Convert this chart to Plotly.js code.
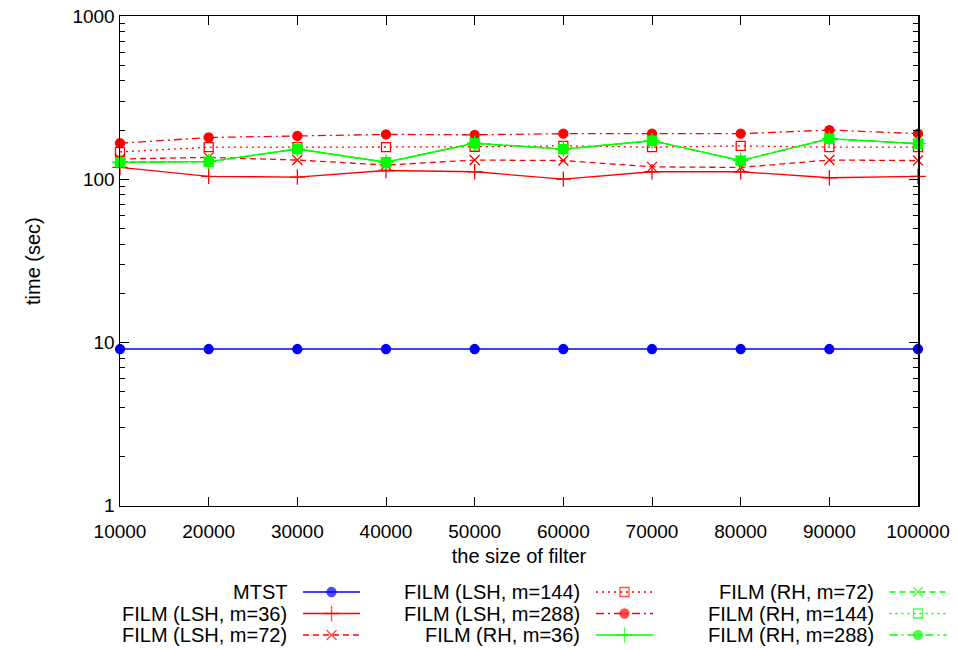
<!DOCTYPE html>
<html>
<head>
<meta charset="utf-8">
<script src="https://cdn.plot.ly/plotly-3.0.1.min.js"></script>
<style>html,body{margin:0;padding:0;background:#fff;}#chart{width:958px;height:650px;}</style>
</head>
<body>
<div id="chart"></div>
<script>
// ---- data ----
const filterSizes = [10000, 20000, 30000, 40000, 50000, 60000, 70000, 80000, 90000, 100000];
const mtst   = [9.1, 9.1, 9.1, 9.1, 9.1, 9.1, 9.1, 9.1, 9.1, 9.1];
const lsh36  = [118, 104, 103, 113, 111, 100, 111, 111, 102, 104];
const lsh72  = [133, 136, 131, 122, 131, 130, 119, 118, 131, 130];
const lsh144 = [147, 157, 157, 157, 158, 160, 157, 160, 157, 157];
const lsh288 = [166, 180, 184, 188, 187, 190, 190, 190, 200, 190];
const rh36   = [127, 128, 153, 127, 166, 153, 172, 130, 177, 165];
const rh72   = [127, 128, 153, 127, 166, 153, 172, 130, 177, 165];
const rh144  = [127, 128, 153, 127, 166, 153, 172, 130, 177, 165];
const rh288  = [127, 128, 153, 127, 166, 153, 172, 130, 177, 165];
const seriesNames = ['MTST', 'FILM (LSH, m=36)', 'FILM (LSH, m=72)', 'FILM (LSH, m=144)',
  'FILM (LSH, m=288)', 'FILM (RH, m=36)', 'FILM (RH, m=72)', 'FILM (RH, m=144)', 'FILM (RH, m=288)'];
const seriesValues = [mtst, lsh36, lsh72, lsh144, lsh288, rh36, rh72, rh144, rh288];
const yTickVals = [1, 10, 100, 1000];
const yTickText = ['1', '10', '100', '1000'];
const xTitle = 'the size of filter';
const yTitle = 'time (sec)';

// ---- styles ----
const styles = [
  {color: '#0000ff', dash: 'solid', symbol: 'circle', size: 9, width: 1.3},
  {color: '#ff0000', dash: 'solid', symbol: 'cross-thin-open', size: 11, width: 1.3},
  {color: '#ff0000', dash: '6px,4px', symbol: 'x-thin-open', size: 10, width: 1.3},
  {color: '#ff0000', dash: '2px,4px', symbol: 'square-open', size: 9, width: 1.3},
  {color: '#ff0000', dash: '8px,4px,2px,4px', symbol: 'circle', size: 9, width: 1.3},
  {color: '#00ff00', dash: 'solid', symbol: 'cross-thin-open', size: 11, width: 1.3},
  {color: '#00ff00', dash: '6px,4px', symbol: 'x-thin-open', size: 10, width: 1.3},
  {color: '#00ff00', dash: '2px,4px', symbol: 'square-open', size: 9, width: 1.3},
  {color: '#00ff00', dash: '8px,4px,2px,4px', symbol: 'circle', size: 9, width: 1.3}
];
const FONT = 'Liberation Sans, Arial, Helvetica, sans-serif';
const FS = 19;   // tick labels
const FS2 = 20;  // titles and legend

const traces = [];
seriesNames.forEach((name, i) => {
  const s = styles[i];
  traces.push({
    type: 'scatter', mode: 'lines+markers', name: name,
    x: filterSizes, y: seriesValues[i], xaxis: 'x', yaxis: 'y',
    line: {color: s.color, width: s.width, dash: s.dash},
    marker: {symbol: s.symbol, size: s.size, color: s.color, line: {color: s.color, width: 1.3}},
    cliponaxis: false, showlegend: false, hoverinfo: 'x+y+name'
  });
});

// ---- custom gnuplot-style legend (text, then sample) ----
const annotations = [];
const colRight = [289, 582, 875.5];
const rowY = [592, 613.5, 635];
seriesNames.forEach((name, i) => {
  const s = styles[i];
  const c = Math.floor(i / 3), r = i % 3;
  const xr = colRight[c];
  annotations.push({
    xref: 'x2', yref: 'y2', x: xr, y: rowY[r], text: name, showarrow: false,
    xanchor: 'right', yanchor: 'middle', font: {family: FONT, size: FS2, color: '#000'}
  });
  traces.push({
    type: 'scatter', mode: 'lines+markers', xaxis: 'x2', yaxis: 'y2',
    x: [xr + 14, xr + 42.5, xr + 71], y: [rowY[r], rowY[r], rowY[r]],
    line: {color: s.color, width: s.width, dash: s.dash},
    marker: {symbol: s.symbol, size: [0, s.size, 0], color: s.color, line: {color: s.color, width: 1.3}},
    cliponaxis: false, showlegend: false, hoverinfo: 'skip'
  });
});

const minorVals = [];
for (let d = 1; d < 1000; d *= 10) for (let k = 2; k <= 9; k++) minorVals.push(k * d);

const W = 958, H = 650, T = 16;
const paperH = H - T;

// y-axis title placed like gnuplot's (further left than Plotly's default)
annotations.push({
  xref: 'x2', yref: 'paper', x: 33, y: (H - 261) / paperH, text: yTitle, textangle: -90,
  showarrow: false, xanchor: 'center', yanchor: 'middle', font: {family: FONT, size: FS2, color: '#000'}
});

const layout = {
  width: W, height: H,
  margin: {l: 0, r: 0, t: T, b: 0, pad: 0},
  paper_bgcolor: '#fff', plot_bgcolor: 'rgba(0,0,0,0)',
  font: {family: FONT, size: FS, color: '#000'},
  showlegend: false,
  xaxis: {
    domain: [120 / W, 918 / W], range: [10000, 100000], anchor: 'y',
    tickvals: filterSizes, ticktext: filterSizes.map(String),
    ticks: 'inside', ticklen: 9, tickwidth: 1, tickcolor: '#000',
    showline: true, linewidth: 1.5, linecolor: '#000', mirror: 'ticks',
    showgrid: false, zeroline: false, automargin: false,
    ticklabelstandoff: 8,
    tickfont: {family: FONT, size: FS},
    title: {text: xTitle, font: {family: FONT, size: FS2}, standoff: 8}
  },
  yaxis: {
    domain: [(H - 505.5) / paperH, 1], type: 'log', range: [0, 3], anchor: 'x',
    tickvals: yTickVals, ticktext: yTickText,
    ticks: 'inside', ticklen: 9, tickwidth: 1, tickcolor: '#000',
    minor: {tickvals: minorVals, ticks: 'inside', ticklen: 5, tickwidth: 1, tickcolor: '#000', showgrid: false},
    showline: true, linewidth: 1.5, linecolor: '#000', mirror: 'ticks',
    showgrid: false, zeroline: false, automargin: false,
    tickfont: {family: FONT, size: FS}
  },
  xaxis2: {domain: [0, 1], range: [0, W], anchor: 'y2', visible: false, fixedrange: true},
  yaxis2: {domain: [0, (H - 506) / paperH], range: [H, 506], anchor: 'x2', visible: false, fixedrange: true},
  annotations: annotations
};

Plotly.newPlot('chart', traces, layout, {displayModeBar: false, staticPlot: true});
</script>
</body>
</html>
